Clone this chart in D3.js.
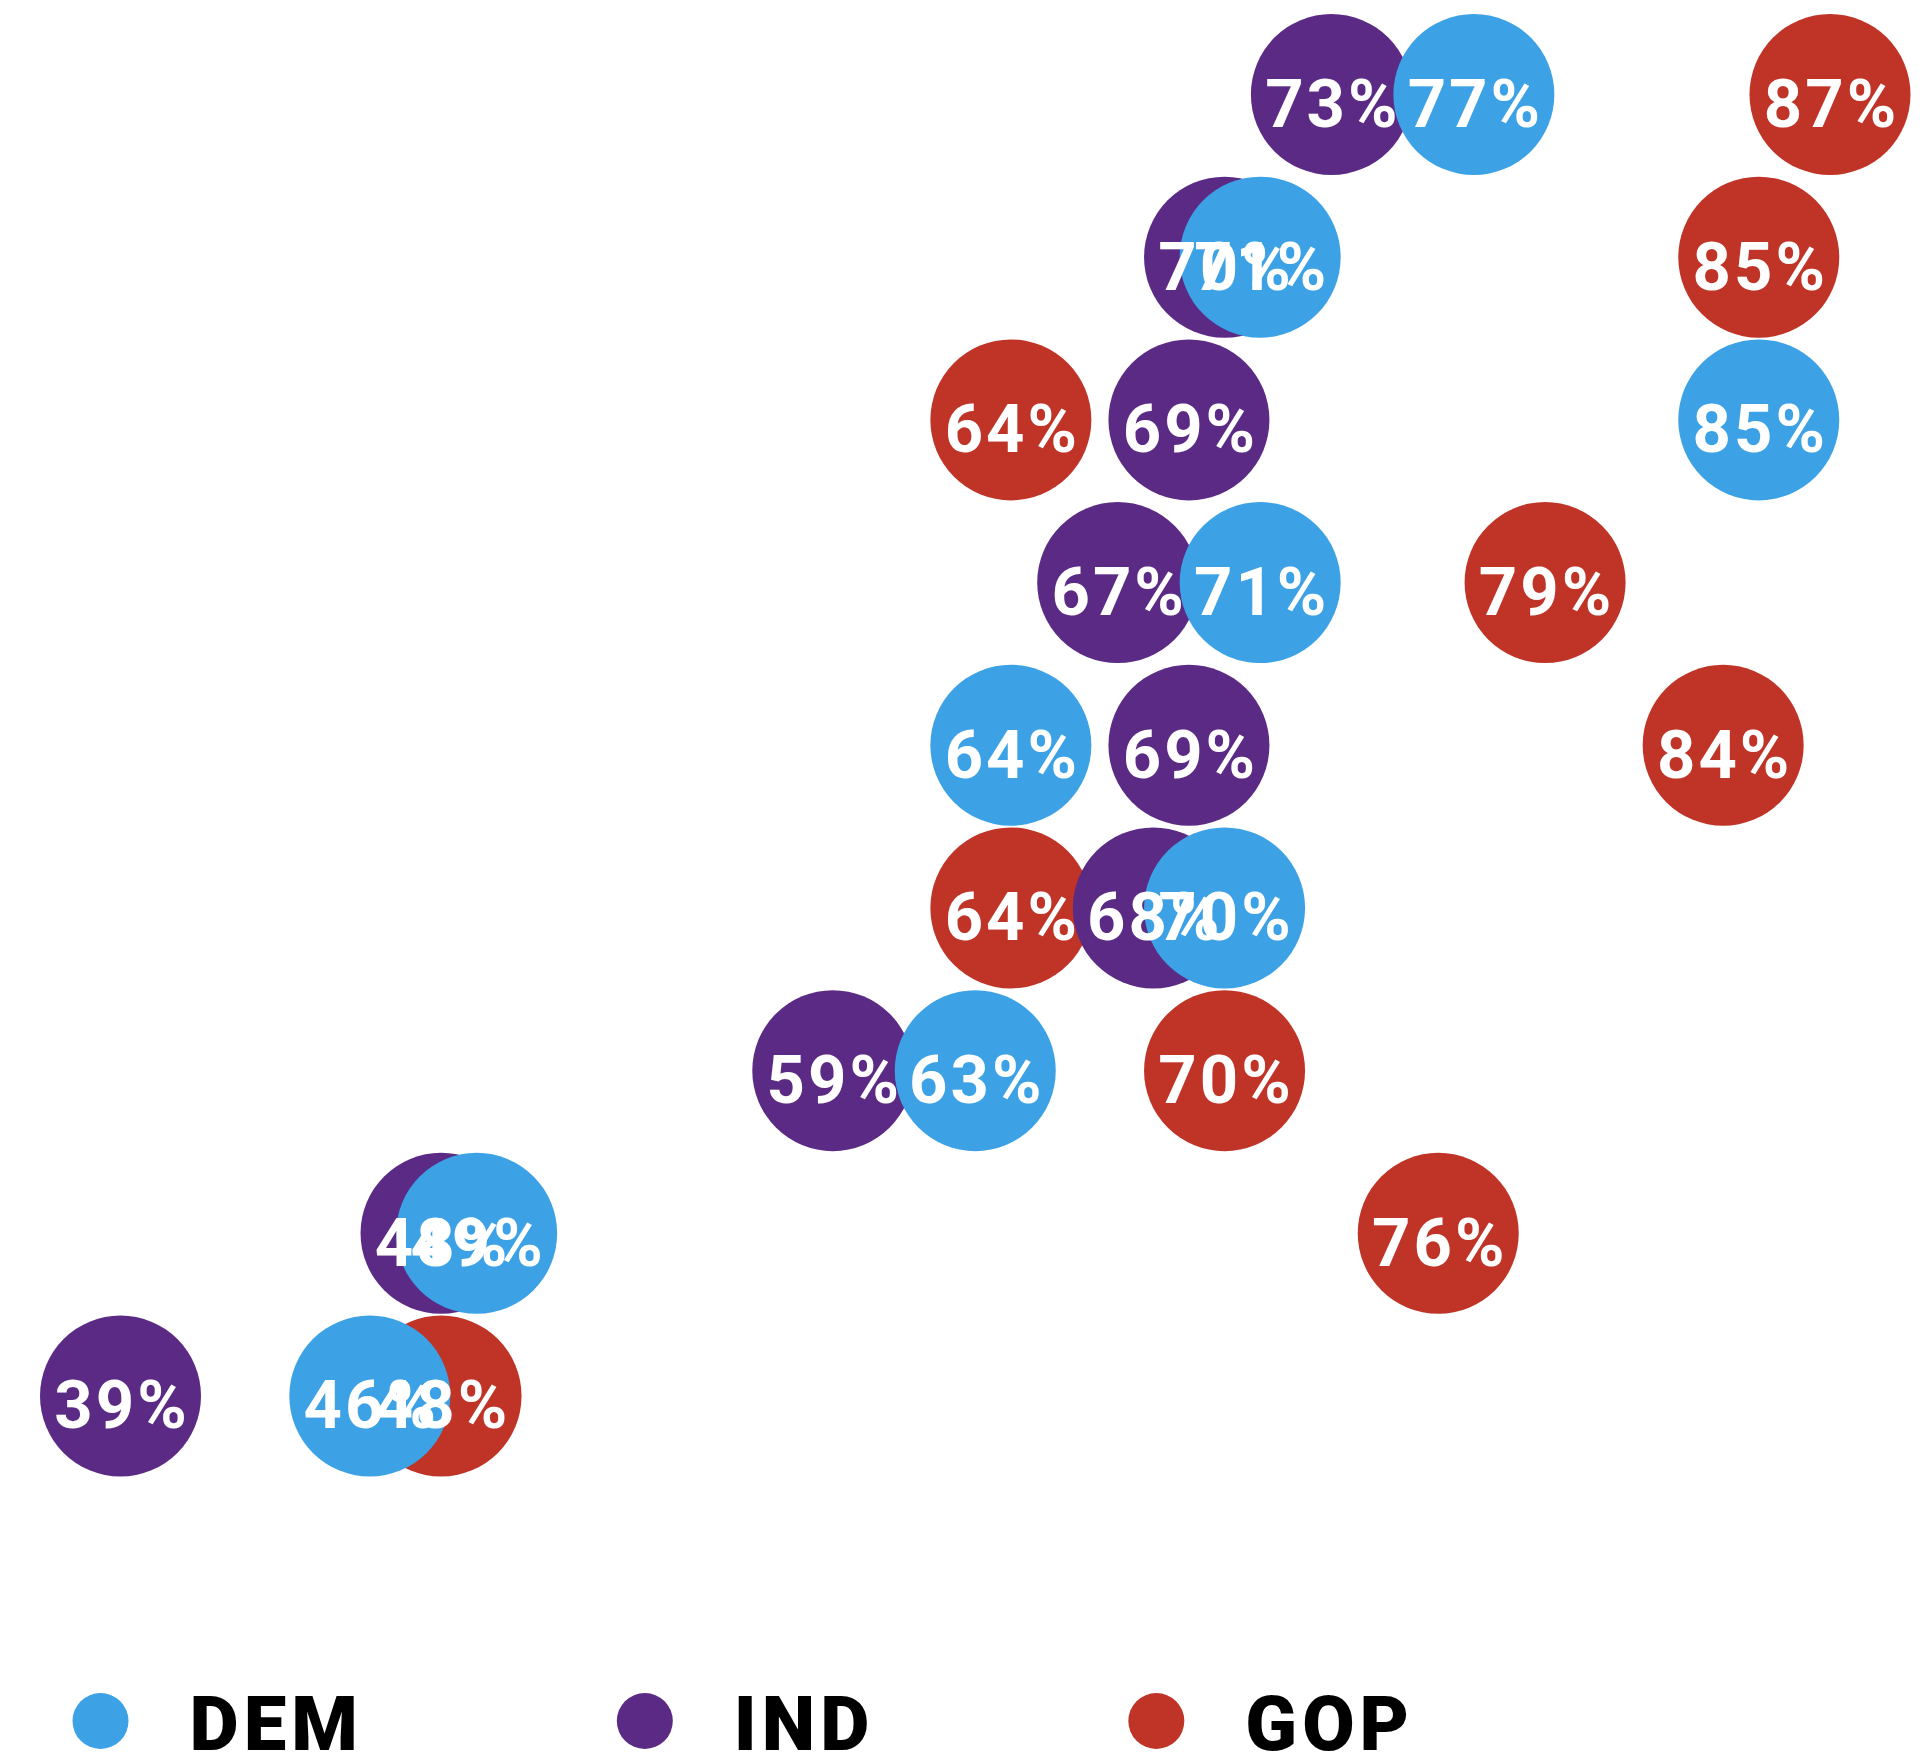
<!DOCTYPE html>
<html>
<head>
<meta charset="utf-8">
<script src="https://cdn.jsdelivr.net/npm/d3@7"></script>
<style>
  html, body { margin: 0; padding: 0; background: #fff; }
  svg { display: block; }
</style>
</head>
<body>
<script>
// Data: nine rows (top to bottom), percentages for each party
const rows = [0, 1, 2, 3, 4, 5, 6, 7, 8];
const demValues = [77, 71, 85, 71, 64, 70, 63, 49, 46];
const indValues = [73, 70, 69, 67, 69, 68, 59, 48, 39];
const gopValues = [87, 85, 64, 79, 84, 64, 70, 76, 48];
const seriesNames = ["DEM", "IND", "GOP"];
const seriesColors = ["#3ca2e5", "#5b2a84", "#c03428"];

const W = 1922, H = 1757;
const svg = d3.select("body").append("svg").attr("width", W).attr("height", H);

const x = d3.scaleLinear().domain([39, 87]).range([120.5, 1830]);
const y = d3.scalePoint().domain(rows).range([94.5, 1396]);
const color = d3.scaleOrdinal().domain(seriesNames).range(seriesColors);
const r = 80.5;

const valuesBySeries = { DEM: demValues, IND: indValues, GOP: gopValues };
// drawing order: GOP beneath, IND, DEM on top
const drawOrder = ["GOP", "IND", "DEM"];
const points = [];
drawOrder.forEach(s => rows.forEach((row, i) => points.push({ s, row, v: valuesBySeries[s][i] })));

const font = "Roboto, 'DejaVu Sans', sans-serif";
const ls = 3;

svg.append("g").selectAll("circle").data(points).join("circle")
  .attr("cx", d => x(d.v)).attr("cy", d => y(d.row)).attr("r", r)
  .attr("fill", d => color(d.s));

svg.append("g").selectAll("text").data(points).join("text")
  .attr("x", d => x(d.v) + ls / 2).attr("y", d => y(d.row))
  .attr("dy", "0.485em")
  .attr("text-anchor", "middle")
  .attr("fill", "#fff")
  .attr("font-family", font)
  .attr("font-weight", 700)
  .attr("font-size", 67)
  .attr("letter-spacing", ls)
  .text(d => d.v + "%");

// Legend
const legend = svg.append("g");
let lx = 100.5;
const ly = 1721;
seriesNames.forEach(s => {
  const g = legend.append("g");
  g.append("circle").attr("cx", lx).attr("cy", ly).attr("r", 28).attr("fill", color(s));
  const t = g.append("text").attr("x", lx + 89).attr("y", 1750)
    .attr("font-family", font).attr("font-weight", 900).attr("font-size", 76)
    .attr("letter-spacing", 5)
    .attr("fill", "#000").text(s);
  const tw = t.node().getComputedTextLength();
  lx = lx + 89 + tw + 282;
});
</script>
</body>
</html>
